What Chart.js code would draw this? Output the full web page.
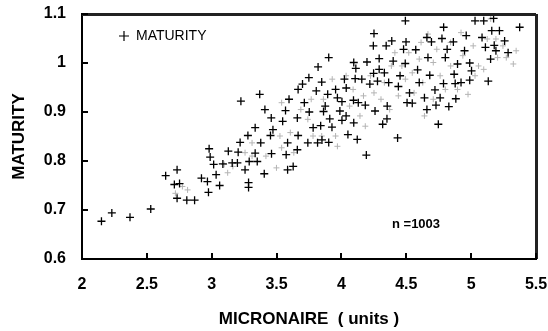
<!doctype html>
<html lang="en">
<head>
<meta charset="utf-8">
<title>Maturity vs Micronaire</title>
<script src="https://cdn.jsdelivr.net/npm/chart.js@4.4.0/dist/chart.umd.min.js"></script>
<style>
  html, body { margin: 0; padding: 0; background: #fff; }
  #chart { display: block; }
</style>
</head>
<body>
<canvas id="chart" width="548" height="331"></canvas>
<script>
// clearly drawn crosses
const micronaire = [
  2.15, 2.23, 2.37, 2.53, 2.645, 2.733, 2.712, 2.752, 2.733, 2.808,
  2.868, 2.921, 2.967, 2.98, 2.988, 3.015, 3.034, 3.061, 2.975, 3.128,
  3.158, 3.204, 3.219, 3.198, 3.225, 3.257, 3.279, 3.284, 3.284, 3.289,
  3.335, 3.351, 3.37, 3.378, 3.41, 3.405, 3.459, 3.453, 3.461, 3.472,
  3.547, 3.569, 3.585, 3.574, 3.585, 3.596, 3.628, 3.66, 3.666, 3.66,
  3.666, 3.7, 3.714, 3.749, 3.741, 3.752, 3.782, 3.806, 3.82, 3.84,
  3.848, 3.816, 3.875, 3.902, 3.902, 3.91, 3.894, 3.955, 3.969, 3.988,
  4.023, 4.036, 4.05, 4.095, 4.095, 4.111, 4.122, 4.13, 4.157, 4.197,
  4.192, 4.219, 4.246, 4.251, 4.259, 4.278, 4.291, 4.291, 4.318, 4.331,
  4.345, 4.353, 4.364, 4.388, 4.399, 4.433, 4.439, 4.452, 4.479, 4.493,
  4.498, 4.506, 4.525, 4.546, 4.573, 4.587, 4.6, 4.64, 4.659, 4.659,
  4.667, 4.681, 4.694, 4.721, 4.729, 4.747, 4.761, 4.775, 4.788, 4.801,
  4.815, 4.828, 4.863, 4.869, 4.882, 4.895, 4.922, 4.949, 4.962, 4.989,
  4.989, 5.003, 5.03, 5.084, 5.097, 5.11, 5.132, 5.15, 5.159, 5.178,
  5.191, 5.218, 5.258, 5.285, 5.374, 3.086, 3.862, 3.927, 3.335, 4.106,
  4.093, 4.004, 4.351, 4.492, 5.173, 4.877, 4.787, 4.037, 3.85, 4.184,
  4.248, 4.004
];
const maturity = [
  0.677, 0.694, 0.685, 0.702, 0.77, 0.782, 0.752, 0.754, 0.724, 0.72,
  0.72, 0.765, 0.758, 0.825, 0.808, 0.793, 0.772, 0.75, 0.736, 0.82,
  0.796, 0.818, 0.838, 0.796, 0.922, 0.782, 0.852, 0.756, 0.746, 0.799,
  0.868, 0.799, 0.936, 0.837, 0.905, 0.774, 0.888, 0.852, 0.815, 0.864,
  0.881, 0.903, 0.837, 0.813, 0.782, 0.926, 0.789, 0.823, 0.852, 0.888,
  0.946, 0.957, 0.919, 0.97, 0.837, 0.9, 0.868, 0.943, 0.992, 0.872,
  0.961, 0.837, 0.912, 1.011, 0.838, 0.886, 0.936, 0.946, 0.929, 0.902,
  0.967, 0.892, 0.854, 1.001, 0.878, 0.989, 0.844, 0.919, 0.967, 1.002,
  0.812, 0.957, 1.035, 1.06, 0.902, 0.963, 1.009, 0.987, 0.875, 0.98,
  1.035, 0.912, 0.96, 1.045, 1.004, 0.847, 0.952, 0.974, 1.028, 1.086,
  1.043, 0.919, 0.939, 0.918, 1.027, 0.986, 0.96, 0.929, 1.052, 0.905,
  1.011, 0.975, 1.043, 0.945, 0.914, 0.875, 0.929, 1.05, 1.073, 1.011,
  1.028, 0.911, 1.043, 0.977, 0.927, 0.998, 0.96, 1.025, 1.056, 1.0,
  0.965, 0.984, 1.086, 1.052, 1.086, 1.032, 0.963, 1.008, 1.066, 1.036,
  1.025, 1.066, 1.045, 1.021, 1.073, 0.794, 0.901, 0.869, 0.816, 0.968,
  0.924, 0.921, 0.886, 0.999, 1.091, 0.958, 0.958, 0.949, 0.843, 0.914,
  0.979, 0.883
];

// crosses that only show as faint fragments in the scan
const faintMicronaire = [
  2.774, 2.814, 2.72, 3.096, 3.123, 3.163, 3.257, 3.311, 3.311, 3.418,
  3.499, 3.539, 3.526, 3.539, 3.606, 3.633, 3.687, 3.741, 3.767, 3.781,
  3.848, 3.861, 3.929, 3.955, 3.969, 4.036, 4.063, 4.09, 4.143, 4.17,
  4.184, 4.224, 4.251, 4.305, 4.331, 4.372, 4.385, 4.412, 4.439, 4.466,
  4.493, 4.519, 4.546, 4.56, 4.6, 4.614, 4.627, 4.64, 4.667, 4.708,
  4.708, 4.735, 4.761, 4.801, 4.842, 4.842, 4.895, 4.922, 4.936, 4.976,
  5.016, 5.03, 5.057, 5.097, 5.124, 5.151, 5.191, 5.204, 5.245, 5.271,
  5.325, 5.347
];
const faintMaturity = [
  0.748, 0.741, 0.734, 0.793, 0.776, 0.789, 0.817, 0.837, 0.81, 0.81,
  0.786, 0.827, 0.851, 0.919, 0.858, 0.817, 0.905, 0.885, 0.926, 0.851,
  0.851, 0.926, 0.967, 0.851, 0.83, 0.974, 0.912, 0.946, 0.892, 0.933,
  0.871, 0.974, 0.939, 0.926, 0.96, 0.905, 0.994, 1.021, 0.933, 0.994,
  0.967, 1.021, 0.98, 0.939, 1.008, 1.042, 0.96, 0.892, 1.059, 1.001,
  0.926, 1.028, 0.974, 0.946, 1.042, 0.994, 0.946, 1.062, 1.015, 0.936,
  1.035, 0.974, 0.994, 0.987, 1.049, 1.09, 1.049, 1.011, 1.035, 1.011,
  0.998, 1.025
];

const xTickLabels = ['2', '2.5', '3', '3.5', '4', '4.5', '5', '5.5'];
const yTickLabels = ['0.6', '0.7', '0.8', '0.9', '1', '1.1'];
const sampleNote = 'n =1003';

const FONT = '"Liberation Sans", Arial, sans-serif';

const points = micronaire.map((x, i) => ({ x: x, y: maturity[i] }));
const faintPoints = faintMicronaire.map((x, i) => ({ x: x, y: faintMaturity[i] }));

// top and right edges of the box
const frame = {
  id: 'frame',
  afterDraw(chart) {
    const ctx = chart.ctx;
    const a = chart.chartArea;
    ctx.save();
    ctx.fillStyle = '#222';
    ctx.fillRect(a.left, a.top - 1, a.right - a.left, 3);
    ctx.fillRect(a.right - 1, a.top, 3, a.bottom - a.top);
    ctx.restore();
  }
};

// inward tick marks, legend and the n label
const decorations = {
  id: 'decorations',
  afterDraw(chart) {
    const ctx = chart.ctx;
    const a = chart.chartArea;
    const sx = chart.scales.x;
    const sy = chart.scales.y;
    ctx.save();

    ctx.fillStyle = '#000';
    sx.ticks.forEach(t => {
      const px = Math.round(sx.getPixelForValue(t.value));
      ctx.fillRect(px - 1, a.bottom - 6, 2, 6);
    });
    sy.ticks.forEach(t => {
      const py = Math.round(sy.getPixelForValue(t.value));
      ctx.fillRect(a.left, py - 1, 6, 2);
    });

    // legend
    const lx = a.left + 42, ly = a.top + 22;
    ctx.strokeStyle = '#000';
    ctx.lineWidth = 1.2;
    ctx.beginPath();
    ctx.moveTo(lx - 5, ly); ctx.lineTo(lx + 5, ly);
    ctx.moveTo(lx, ly - 5); ctx.lineTo(lx, ly + 5);
    ctx.stroke();
    ctx.font = '14px ' + FONT;
    ctx.textBaseline = 'middle';
    ctx.textAlign = 'left';
    ctx.fillText(chart.data.datasets[0].label, lx + 12, ly);

    ctx.font = 'bold 13px ' + FONT;
    ctx.fillText(sampleNote, 392, 224);
    ctx.restore();
  }
};

new Chart(document.getElementById('chart'), {
  type: 'scatter',
  data: {
    datasets: [
      {
        label: 'MATURITY',
        data: points,
        pointStyle: 'cross',
        pointRadius: 4,
        pointBorderWidth: 1.3,
        borderColor: '#000',
        backgroundColor: '#000',
      },
      {
        label: 'faint',
        data: faintPoints,
        pointStyle: 'cross',
        pointRadius: 3,
        pointBorderWidth: 1,
        borderColor: '#b4b4b4',
        backgroundColor: '#b4b4b4',
      }
    ]
  },
  options: {
    responsive: false,
    animation: false,
    devicePixelRatio: 1,
    layout: { padding: { top: 14, right: 12, left: 0, bottom: 0 } },
    plugins: {
      legend: { display: false },
      tooltip: { enabled: false }
    },
    scales: {
      x: {
        type: 'linear',
        min: 2,
        max: 5.5,
        afterFit: s => {
          s.height = 72;
          s.paddingLeft = 0;
          s.paddingRight = 0;
        },
        grid: { display: false, drawTicks: false },
        border: { color: '#000', width: 2 },
        ticks: {
          stepSize: 0.5,
          padding: 16,
          color: '#000',
          font: { family: FONT, size: 16, weight: 'bold' },
          callback: (v, i) => xTickLabels[i]
        },
        title: {
          display: true,
          text: 'MICRONAIRE  ( units )',
          color: '#000',
          font: { family: FONT, size: 17, weight: 'bold' },
          padding: { top: 0, bottom: 1 }
        }
      },
      y: {
        min: 0.6,
        max: 1.1,
        afterFit: s => {
          s.width = 82;
          s.paddingTop = 0;
          s.paddingBottom = 0;
        },
        grid: { display: false, drawTicks: false },
        border: { color: '#000', width: 2 },
        ticks: {
          stepSize: 0.1,
          padding: 16,
          color: '#000',
          font: { family: FONT, size: 16, weight: 'bold' },
          callback: (v, i) => yTickLabels[i]
        },
        title: {
          display: true,
          text: 'MATURITY',
          color: '#000',
          font: { family: FONT, size: 17, weight: 'bold' },
          padding: { top: 9, bottom: 0 }
        }
      }
    }
  },
  plugins: [frame, decorations]
});
</script>
</body>
</html>
